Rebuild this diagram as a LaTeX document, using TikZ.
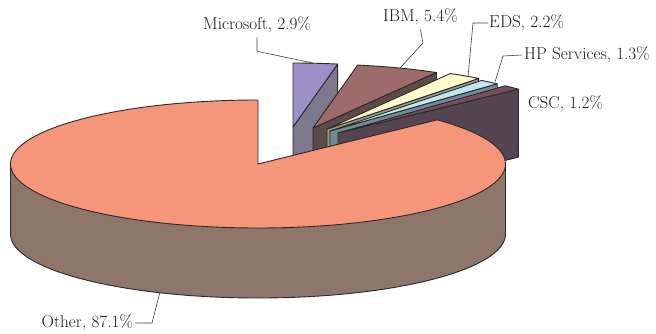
\documentclass[tikz,border=0pt]{standalone}
\usepackage{fontspec}
\definecolor{othtop}{HTML}{F5967A}
\definecolor{othside}{HTML}{8E766A}
\definecolor{mstop}{HTML}{9B91C8}
\definecolor{msside}{HTML}{7D788C}
\definecolor{ibmtop}{HTML}{9E6B6B}
\definecolor{ibmside}{HTML}{5F4A4A}
\definecolor{edstop}{HTML}{FFFACD}
\definecolor{edsside}{HTML}{96967D}
\definecolor{hptop}{HTML}{BEE6F5}
\definecolor{hpside}{HTML}{6E8C96}
\definecolor{csctop}{HTML}{784B5F}
\definecolor{cscside}{HTML}{554550}
\definecolor{edge}{HTML}{2A2A2A}
\tikzset{
  face/.style={draw=edge, line width=0.9pt, line join=round},
  leader/.style={draw=edge!90, line width=0.6pt},
  lbl/.style={inner sep=0pt, text=black!90, font=\fontsize{17.2}{20}\selectfont}
}
% #1 vertex, #2 start angle, #3 end angle, #4 top colour, #5 side colour
\newcommand{\mkslice}[5]{%
  \filldraw[face, fill=#5] #1 -- ++(#3:247.5 and 64) -- ++(0,-68)
     -- ++({-247.5*cos(#3)},{-64*sin(#3)}) -- cycle;
  \filldraw[face, fill=#4] #1 -- ++(#2:247.5 and 64)
     arc[start angle=#2, end angle=#3, x radius=247.5, y radius=64] -- cycle;
}
\begin{document}
\begin{tikzpicture}[x=1pt,y=1pt]
\useasboundingbox (0,-334) rectangle (656,0);
% exploded slices, back to front
\mkslice{(293,-127)}{90}{79.6}{mstop}{msside}
\mkslice{(313,-128)}{79.6}{60.1}{ibmtop}{ibmside}
\mkslice{(327,-129)}{60.1}{52.2}{edstop}{edsside}
\mkslice{(330,-131)}{52.2}{47.5}{hptop}{hpside}
\mkslice{(338,-133)}{47.5}{43.2}{csctop}{cscside}
% Other: side and top
\filldraw[face, fill=othside] (10.5,-164) -- ++(0,-70)
   arc[start angle=180, end angle=360, x radius=247.5, y radius=64]
   -- ++(0,70) -- cycle;
\filldraw[face, fill=othtop] (258,-164) -- ++(90:247.5 and 64)
   arc[start angle=90, end angle=403.6, x radius=247.5, y radius=64] -- cycle;
% labels
\node[lbl, anchor=west] (ms) at (203,-25) {Microsoft, 2.9\%};
\node[lbl, anchor=west] (ibm) at (383,-17) {IBM, 5.4\%};
\node[lbl, anchor=west] (eds) at (489,-23) {EDS, 2.2\%};
\node[lbl, anchor=west] (hp) at (524,-55) {HP Services, 1.3\%};
\node[lbl, anchor=west] (csc) at (528,-104) {CSC, 1.2\%};
\node[lbl, anchor=east] (oth) at (133,-323) {Other, 87.1\%};
\coordinate (msend) at (313,-63);
\coordinate (ibmend) at (400,-68);
\coordinate (edsend) at (468,-77);
\coordinate (hpend) at (495,-82);
\coordinate (othend) at (160,-292);
\draw[leader] ([yshift=-4pt]ms.south) -- ++(0,-14) -- (msend);
\draw[leader] ([yshift=-4pt]ibm.south) -- (423,-43) -- (ibmend);
\draw[leader] ([xshift=-1pt]eds.west) -- (473,-23) -- (edsend);
\draw[leader] ([xshift=-2pt]hp.west) -- (503,-56) -- (hpend);
\draw[leader] ([xshift=2pt]oth.east) -- (152,-323) -- (othend);
\end{tikzpicture}
\end{document}
